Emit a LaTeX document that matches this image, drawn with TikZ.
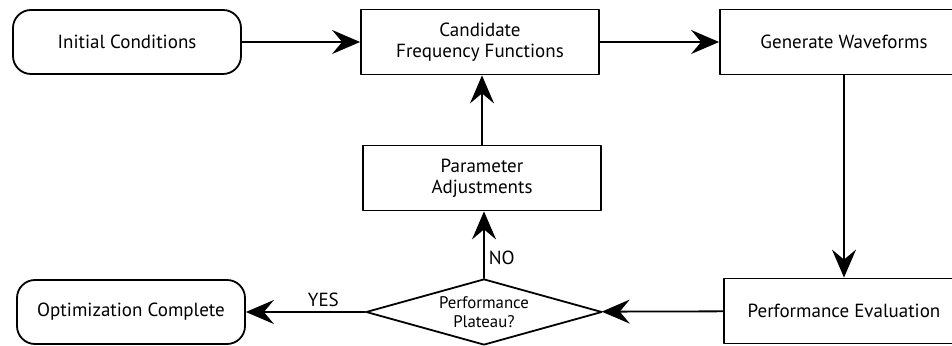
\documentclass[tikz,border=0pt]{standalone}
\usepackage{fontspec}
\setmainfont{PT Sans}
\usetikzlibrary{arrows.meta,shapes.geometric}

\begin{document}
\begin{tikzpicture}[line cap=round,line join=round,x=0.5pt,y=-0.5pt,
	>={Stealth[length=14pt,width=12pt,inset=5pt]},
	every path/.style={line width=0.9pt},
	box/.style={draw,rectangle,minimum width=119pt,minimum height=32.5pt,inner sep=0pt,align=center,font=\fontsize{9.5}{10.5}\selectfont},
	term/.style={box,rounded corners=9pt,minimum width=114pt,minimum height=32pt},
	test/.style={draw,diamond,aspect=3.6,minimum width=118pt,minimum height=33pt,inner sep=0pt,align=center,font=\fontsize{8.4}{9.6}\selectfont},
	lbl/.style={font=\fontsize{9.5}{10.5}\selectfont,inner sep=2pt}]
	\useasboundingbox (0,0) rectangle (952,346);
	% top row
	\node[term] (init) at (127,42) {Initial Conditions};
	\node[box] (cand) at (480,42) {Candidate\\Frequency Functions};
	\node[box,minimum width=124pt] (gen) at (844,42) {Generate Waveforms};
	% loop
	\node[box] (param) at (482,178) {Parameter\\Adjustments};
	\node[test] (plat) at (484,312) {Performance\\Plateau?};
	\node[box,minimum width=120pt] (perf) at (844,311) {Performance Evaluation};
	\node[term] (done) at (131,312) {Optimization Complete};
	\draw[->] (init) -- (cand);
	\draw[->] (cand) -- (gen);
	\draw[->] (gen) -- (perf);
	\draw[->] (perf) -- (plat);
	\draw[->] (plat) -- node[lbl,above,pos=0.35] {YES} (done);
	\draw[->] (plat.north) -- node[lbl,right,pos=0.3] {NO} (plat.north|-param.south);
	\draw[->] (param) -- (param|-cand.south);
\end{tikzpicture}
\end{document}
